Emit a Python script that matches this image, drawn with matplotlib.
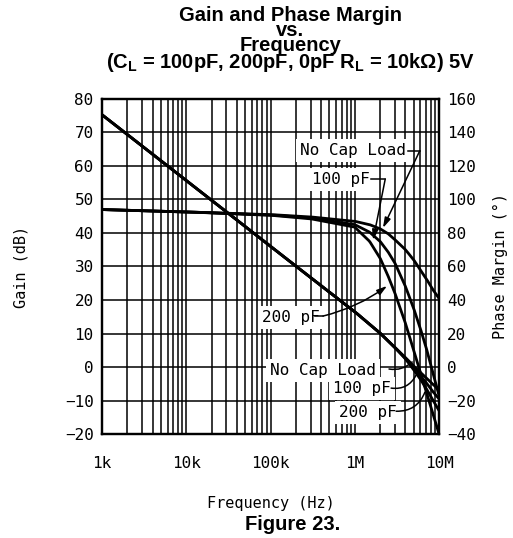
#!/usr/bin/env python3
"""
Gain and Phase Margin vs. Frequency (Figure 23)
"""

import numpy as np
import matplotlib.pyplot as plt
from matplotlib.ticker import FixedLocator, NullFormatter

MONO = 'DejaVu Sans Mono'
TITLE_FONT = 'Liberation Sans'

# ---- data ----
gain_freq = [1e3, 1e4, 1e5, 1e6, 2e6, 3e6, 4e6, 5e6, 6e6, 7e6, 8.5e6, 1e7]
gain_nocap = [75.3, 55.7, 36.0, 16.5, 10.1, 5.8, 2.8, 0.3, -1.6, -3.2, -5.2, -6.8]
gain_100pf = [75.3, 55.7, 36.0, 16.5, 10.1, 5.8, 2.6, -0.3, -2.6, -4.6, -7.4, -9.5]
gain_200pf = [75.3, 55.7, 36.0, 16.5, 10.1, 5.8, 2.4, -0.8, -3.6, -6.3, -10.0, -13.0]

phase_freq = [1e3, 1e4, 1e5, 3e5, 1e6, 1.5e6, 2e6, 2.5e6, 3e6, 4e6, 5e6, 6e6, 7e6, 8.5e6, 1e7]
phase_nocap = [94, 92.6, 91, 89.6, 87, 85, 82.5, 79.5, 76, 70, 64, 58, 53, 46, 41]
phase_100pf = [94, 92.6, 90.8, 89, 85, 80.5, 75, 68.5, 62, 48, 35, 23, 12, -4, -17]
phase_200pf = [94, 92.6, 90.6, 88.5, 83.5, 75, 65, 54, 44, 26, 10, -3, -14, -28, -40]

x_ticks = [1e3, 1e4, 1e5, 1e6, 1e7]
x_ticklabels = ['1k', '10k', '100k', '1M', '10M']
gain_ticks = list(range(-20, 81, 10))
phase_ticks = list(range(-40, 161, 20))


def smooth(xs, ys, n=300):
    lx = np.log10(xs)
    grid = np.linspace(lx[0], lx[-1], n)
    return 10 ** grid, np.interp(grid, lx, ys)


fig = plt.figure(figsize=(5.13, 5.38), dpi=100)
fig.patch.set_facecolor('white')
ax = fig.add_axes([0.1988, 0.1933, 0.657, 0.6227])
ax2 = ax.twinx()

ax.set_xscale('log')
ax.set_xlim(1e3, 1e7)
ax.set_ylim(-20, 80)
ax2.set_ylim(-40, 160)

ax.set_yticks(gain_ticks)
ax2.set_yticks(phase_ticks)
ax.set_xticks(x_ticks)
ax.set_xticklabels(x_ticklabels)
minors = [m * d for d in [1e3, 1e4, 1e5, 1e6] for m in range(2, 10)]
ax.xaxis.set_minor_locator(FixedLocator(minors))
ax.xaxis.set_minor_formatter(NullFormatter())

ax.grid(True, which='both', axis='x', color='black', lw=1.1)
ax.grid(True, which='major', axis='y', color='black', lw=1.1)
ax.set_axisbelow(True)

for a in (ax, ax2):
    for s in a.spines.values():
        s.set_linewidth(1.6)
        s.set_color('black')
    a.tick_params(which='both', length=0, labelsize=11.5, pad=6)
    for lab in a.get_xticklabels() + a.get_yticklabels():
        lab.set_family(MONO)

ax.tick_params(axis='x', pad=16)

# curves
for ys in (gain_nocap, gain_100pf, gain_200pf):
    fx, fy = smooth(gain_freq, ys)
    ax.plot(fx, fy, color='black', lw=2.0, zorder=4)
for ys in (phase_nocap, phase_100pf, phase_200pf):
    fx, fy = smooth(phase_freq, ys)
    ax2.plot(fx, fy, color='black', lw=2.0, zorder=4)

ax.set_xlabel('Frequency (Hz)', family=MONO, fontsize=11, labelpad=18)
ax.set_ylabel('Gain (dB)', family=MONO, fontsize=11, labelpad=26)
ax2.set_ylabel('Phase Margin (°)', family=MONO, fontsize=11, labelpad=12)

box = dict(boxstyle='square,pad=0.25', facecolor='white', edgecolor='none')
lab_kw = dict(family=MONO, fontsize=11.5, ha='center', va='center',
              bbox=box, zorder=3)
head = '-|>,head_length=0.6,head_width=0.18'

# upper labels with arrows
ax.text(9.55e5, 64.5, 'No Cap Load', **lab_kw)
ax.plot([4.3e6, 5.9e6], [64.5, 64.5], color='black', lw=1.1, zorder=4)
ax.annotate('', xy=(2.16e6, 41.5), xytext=(5.9e6, 64.5),
            arrowprops=dict(arrowstyle=head, color='black', lw=1.1,
                            shrinkA=0, shrinkB=0), zorder=5)

ax.text(6.75e5, 56.1, '100 pF', **lab_kw)
ax.plot([1.55e6, 2.3e6], [56.1, 56.1], color='black', lw=1.1, zorder=4)
ax.annotate('', xy=(1.65e6, 37.9), xytext=(2.3e6, 56.1),
            arrowprops=dict(arrowstyle=head, color='black', lw=1.1,
                            shrinkA=0, shrinkB=0), zorder=5)

ax.text(1.75e5, 14.9, '200 pF', **lab_kw)
ax.plot([3.35e5, 4.2e5], [15.2, 15.2], color='black', lw=1.1, zorder=4)
ax.annotate('', xy=(2.42e6, 24.2), xytext=(4.2e5, 15.2),
            arrowprops=dict(arrowstyle=head, color='black', lw=1.1,
                            shrinkA=0, shrinkB=0,
                            connectionstyle='arc3,rad=0.1'), zorder=5)

# lower labels
ax.text(4.2e5, -0.9, 'No Cap Load', **lab_kw)
ax.annotate('', xy=(4.8e6, 1.5), xytext=(2.55e6, -0.6),
            arrowprops=dict(arrowstyle='-', color='black', lw=1.1,
                            shrinkA=0, shrinkB=0,
                            connectionstyle='arc3,rad=0.25'), zorder=5)

ax.text(1.23e6, -6.3, '100 pF', **lab_kw)
ax.annotate('', xy=(5.35e6, -2.4), xytext=(2.7e6, -6.3),
            arrowprops=dict(arrowstyle='-', color='black', lw=1.1,
                            shrinkA=0, shrinkB=0,
                            connectionstyle='arc3,rad=0.35'), zorder=5)

ax.text(1.44e6, -13.7, '200 pF', **lab_kw)
ax.annotate('', xy=(6.8e6, -7.5), xytext=(3.1e6, -13.2),
            arrowprops=dict(arrowstyle='-', color='black', lw=1.1,
                            shrinkA=0, shrinkB=0,
                            connectionstyle='arc3,rad=0.35'), zorder=5)

# title block (one text so the lines stack tightly like the datasheet)
title = ('Gain and Phase Margin\nvs.\nFrequency\n'
         r'(C$_\mathregular{L}$ = 100pF, 200pF, 0pF R$_\mathregular{L}$ = 10k$\mathregular{\Omega}$) 5V')
fig.text(0.566, 1 - 40 / 538, title, ha='center', va='center',
         fontsize=14.5, fontweight='bold', family=TITLE_FONT,
         linespacing=0.75)
fig.text(0.571, 1 - 524 / 538, 'Figure 23.', ha='center', va='center',
         fontsize=14.5, fontweight='bold', family=TITLE_FONT)

fig.savefig('out.png', dpi=100, facecolor='white')
